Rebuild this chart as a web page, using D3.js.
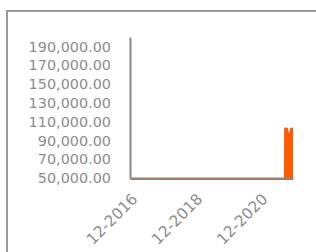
<!doctype html>
<meta charset="utf-8">
<style>
    body { margin: 0; overflow: hidden; }
    .frame {
        position: absolute; left: 6px; top: 10px;
        width: 400px; height: 300px;
        border: 2px solid #999;
    }
    svg { position: absolute; left: 0; top: 0; }
    .axis path { fill: none; stroke: #888; stroke-width: 2px; }
    .axis line { display: none; }
    .axis text { fill: #8c8c8c; font-family: Verdana, "DejaVu Sans", sans-serif; font-size: 14.4px; }
    .x.axis text { font-size: 15.4px; }
</style>
<body>
<div class="frame"></div>
<script src="https://d3js.org/d3.v7.min.js"></script>
<script>
    // data (values below 50,000 sit on the floor)
    const dates = ['2016-12-01', '2017-12-01', '2018-12-01', '2019-12-01', '2020-12-01',
        '2021-08-25', '2021-08-28', '2021-09-20', '2021-10-10', '2021-10-20', '2021-11-05', '2021-11-25', '2021-12-05'];
    const values = [0, 0, 0, 0, 0, 0, 104000, 105000, 104000, 99000, 104000, 105000, 104000];
    const yTicks = [50000, 70000, 90000, 110000, 130000, 150000, 170000, 190000];
    const xTicks = ['2016-12-01', '2018-12-01', '2020-12-01'];

    const parse = d3.timeParse('%Y-%m-%d');
    const data = dates.map((d, i) => ({date: parse(d), value: values[i]}));

    const margin = {top: 37, left: 130};
    const width = 163;
    const height = 141;

    const x = d3.scaleTime().domain([parse('2016-12-01'), parse('2021-12-05')]).range([0, width]);
    const y = d3.scaleLinear().domain([50000, 200000]).range([height, 0]).clamp(true);

    const svg = d3.select('body').append('svg')
        .attr('width', 316)
        .attr('height', 252)
        .append('g')
        .attr('transform', `translate(${margin.left}, ${margin.top})`);

    const area = d3.area()
        .x(d => x(d.date))
        .y0(height + 2)
        .y1(d => Math.min(y(d.value) + 1, height + 1));

    svg.append('path')
        .datum(data)
        .attr('fill', '#ff5a00')
        .attr('d', area);

    // Y axis
    svg.append('g').attr('class', 'y axis')
        .call(d3.axisLeft(y).tickValues(yTicks).tickSize(0).tickPadding(19).tickFormat(d3.format(',.2f')));

    // X axis
    const xAxis = svg.append('g').attr('class', 'x axis')
        .attr('transform', `translate(0, ${height})`)
        .call(d3.axisBottom(x).tickValues(xTicks.map(parse)).tickSize(0).tickFormat(d3.timeFormat('%m-%Y')));
    xAxis.selectAll('text')
        .style('text-anchor', 'end')
        .attr('x', 0)
        .attr('y', 0)
        .attr('dy', 0)
        .attr('transform', 'translate(8, 22) rotate(-45)');
</script>
